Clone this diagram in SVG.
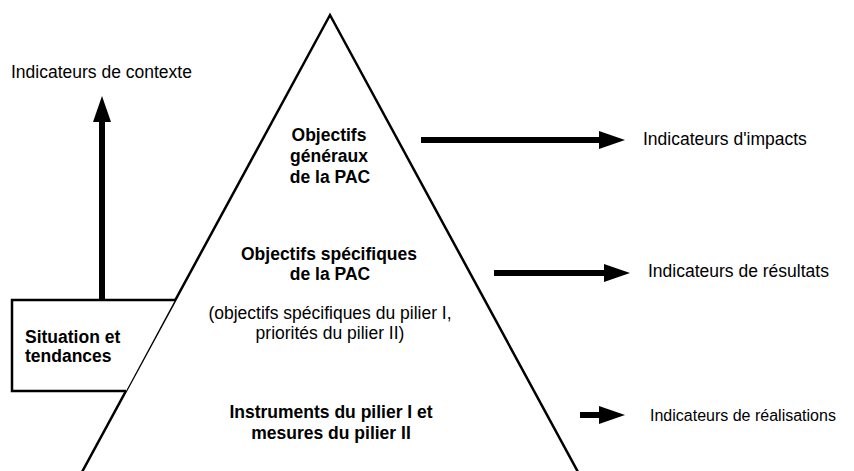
<svg xmlns="http://www.w3.org/2000/svg" width="854" height="471" viewBox="0 0 854 471">
<style>
.t{font-family:"Liberation Sans",Arial,sans-serif;font-size:17.5px;fill:#000}
.b{font-weight:bold}
.c{text-anchor:middle}
.shape{fill:#fff;stroke:#000;stroke-width:2.5;stroke-linejoin:miter}
.arr{stroke:#000;stroke-width:6;fill:none;marker-end:url(#ah)}
</style>
<defs>
<marker id="ah" markerUnits="userSpaceOnUse" viewBox="0 0 26 18" refX="0" refY="9" markerWidth="26" markerHeight="18" orient="auto">
<path d="M0,0 L26,9 L0,18 Z" fill="#000"/>
</marker>
</defs>
<rect width="854" height="471" fill="#fff"/>
<g id="pyramid">
<path class="shape" d="M82,472 L330,15 L578,472" />
<text class="t b c" x="329" y="141">Objectifs</text>
<text class="t b c" x="329" y="162">généraux</text>
<text class="t b c" x="330" y="183">de la PAC</text>
<text class="t b c" x="329" y="260">Objectifs spécifiques</text>
<text class="t b c" x="330" y="280">de la PAC</text>
<text class="t c" x="330" y="319">(objectifs spécifiques du pilier I,</text>
<text class="t c" x="330" y="339">priorités du pilier II)</text>
<text class="t b c" x="331" y="418">Instruments du pilier I et</text>
<text class="t b c" x="331" y="439">mesures du pilier II</text>
</g>
<g id="situation">
<path class="shape" d="M175,300 L12,300 L12,391 L126,391" />
<text class="t b" x="25" y="343">Situation et</text>
<text class="t b" x="25" y="362">tendances</text>
</g>
<g id="connectors">
<line class="arr" x1="102" y1="299" x2="102" y2="122"/>
<line class="arr" x1="421" y1="140" x2="599" y2="140"/>
<line class="arr" x1="494" y1="273" x2="604" y2="273"/>
<line class="arr" x1="580" y1="415" x2="599" y2="415"/>
</g>
<g id="labels">
<text class="t" x="11" y="78">Indicateurs de contexte</text>
<text class="t" x="643" y="145">Indicateurs d'impacts</text>
<text class="t" x="648" y="277">Indicateurs de résultats</text>
<text class="t" x="650" y="421" style="font-size:16px">Indicateurs de réalisations</text>
</g>
</svg>
